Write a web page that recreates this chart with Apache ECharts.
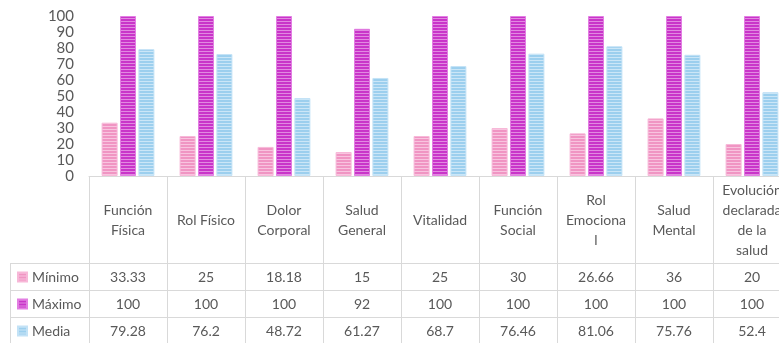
<!DOCTYPE html>
<html>
<head>
<meta charset="utf-8">
<script src="https://cdn.jsdelivr.net/npm/echarts@6/dist/echarts.min.js"></script>
<style>
html,body{margin:0;padding:0;background:#fff;overflow:hidden;width:779px;height:343px;}
#c{width:800px;height:343px;}
</style>
</head>
<body>
<div id="c"></div>
<script>
var categories = ["Función\nFísica","Rol Físico","Dolor\nCorporal","Salud\nGeneral","Vitalidad","Función\nSocial","Rol\nEmociona\nl","Salud\nMental","Evolución\ndeclarada\nde la\nsalud"];
var minimo = [33.33, 25, 18.18, 15, 25, 30, 26.66, 36, 20];
var maximo = [100, 100, 100, 92, 100, 100, 100, 100, 100];
var media = [79.28, 76.2, 48.72, 61.27, 68.7, 76.46, 81.06, 75.76, 52.4];
var seriesNames = ["Mínimo","Máximo","Media"];
var yTicks = [0,10,20,30,40,50,60,70,80,90,100];

function stripe(base, light){
  var cv = document.createElement('canvas');
  cv.width = 4; cv.height = 3;
  var ctx = cv.getContext('2d');
  ctx.fillStyle = base; ctx.fillRect(0,0,4,3);
  ctx.fillStyle = light; ctx.fillRect(0,0,4,1);
  return {image: cv, repeat: 'repeat'};
}
var pats = [stripe('#f095c3','#f8c4df'), stripe('#c935c9','#e189e1'), stripe('#9ccfee','#cbe6f7')];
var borders = ['#f7b8d8','#e27ee2','#c3e2f6'];
var FONT = 'Lato';
var TXT = '#595959';
var LINE = '#d9d9d9';

var rows = [minimo, maximo, media];
var xAxes = [{
  type:'category', data: categories, gridIndex:0, position:'bottom',
  axisLine:{show:true, lineStyle:{color:LINE, width:1}},
  axisTick:{show:true, length:170, interval:0, lineStyle:{color:LINE, width:1}},
  axisLabel:{interval:0, margin:44, verticalAlign:'middle', color:TXT, fontFamily:FONT, fontSize:14, lineHeight:20, align:'center'}
}];
rows.forEach(function(r, i){
  xAxes.push({
    type:'category', data: r.map(String), gridIndex:0, position:'bottom', offset: 87 + 27*i,
    axisLine:{show:true, lineStyle:{color:LINE, width:1}},
    axisTick:{show:false},
    axisLabel:{interval:0, margin:14, verticalAlign:'middle', color:TXT, fontFamily:FONT, fontSize:14}
  });
});

var series = rows.map(function(r, i){
  return {
    name: seriesNames[i], type:'bar', data: r, xAxisIndex:0,
    barWidth:16, barGap:'15%',
    itemStyle:{color: pats[i], borderColor: borders[i], borderWidth:1},
    emphasis:{disabled:true}
  };
});

var legends = seriesNames.map(function(n, i){
  return {
    data:[n], orient:'vertical', left:17, top:269 + 27*i, padding:0,
    itemWidth:9, itemHeight:9, icon:'rect', selectedMode:false,
    textStyle:{color:TXT, fontFamily:FONT, fontSize:14, lineHeight:16}
  };
});

var graphics = [];
[263,290,317].forEach(function(y){
  graphics.push({type:'line', shape:{x1:10,y1:y+0.5,x2:89,y2:y+0.5}, style:{stroke:LINE, lineWidth:1}, silent:true});
});
graphics.push({type:'line', shape:{x1:10.5,y1:263,x2:10.5,y2:343}, style:{stroke:LINE, lineWidth:1}, silent:true});

var chart = echarts.init(document.getElementById('c'), null, {renderer:'canvas'});
chart.setOption({
  animation:false,
  backgroundColor:'#fff',
  grid:{left:89, top:16, width:702, bottom:167, containLabel:false},
  legend: legends,
  xAxis: xAxes,
  yAxis:{
    type:'value', min:0, max:100, interval:10,
    axisLine:{show:false}, axisTick:{show:false}, splitLine:{show:false},
    axisLabel:{margin:15, color:TXT, fontFamily:FONT, fontSize:15,
      formatter:function(v){ return yTicks.indexOf(v) >= 0 ? String(v) : ''; }}
  },
  graphic: graphics,
  series: series
});
</script>
</body>
</html>
